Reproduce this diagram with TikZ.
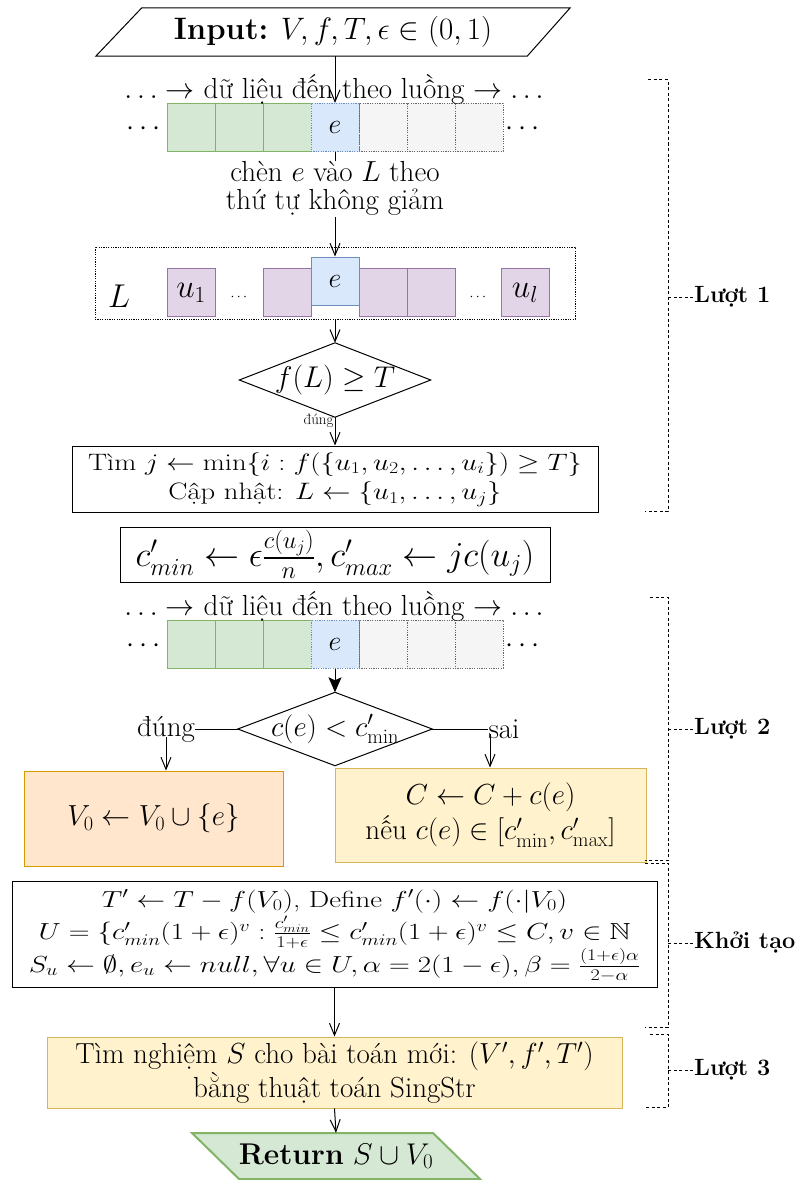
\RequirePackage{fix-cm}
\documentclass[tikz,border=0pt]{standalone}
\usepackage{amsmath,amssymb}
\usetikzlibrary{shapes.geometric,arrows.meta,calc}
\definecolor{gfill}{HTML}{D5E8D4}
\definecolor{gdraw}{HTML}{82B366}
\definecolor{bfill}{HTML}{DAE8FC}
\definecolor{bdraw}{HTML}{6C8EBF}
\definecolor{kfill}{HTML}{F5F5F5}
\definecolor{kdraw}{HTML}{666666}
\definecolor{pfill}{HTML}{E1D5E7}
\definecolor{pdraw}{HTML}{9673A6}
\definecolor{ofill}{HTML}{FFE6CC}
\definecolor{odraw}{HTML}{D79B00}
\definecolor{yfill}{HTML}{FFF2CC}
\definecolor{ydraw}{HTML}{D6B656}
\begin{document}
\begin{tikzpicture}[x=1pt,y=-1pt,
  every node/.style={font=\fontsize{29}{33}\selectfont, inner sep=0pt},
  ln/.style={line width=1pt},
  arr/.style={line width=1pt,-{Straight Barb[length=12pt,width=10pt]}},
  farr/.style={line width=1pt,-{Stealth[length=15pt,width=13pt,inset=3pt]}},
  cell/.style={minimum width=48pt,minimum height=48pt,line width=1pt},
  gcell/.style={cell,draw=gdraw,fill=gfill},
  ecell/.style={cell,draw=bdraw,fill=bfill,dash pattern=on 1.2pt off 1.2pt},
  kcell/.style={cell,draw=kdraw,fill=kfill,dash pattern=on 1.2pt off 1.2pt},
  pcell/.style={cell,draw=pdraw,fill=pfill},
  lcell/.style={cell,draw=bdraw,fill=bfill},
  box/.style={draw,line width=1pt,align=center},
  brk/.style={line width=1pt,dash pattern=on 3pt off 2.5pt},
  brklbl/.style={font=\fontsize{23.5}{27}\selectfont\bfseries,anchor=west},
]
\useasboundingbox (0,0) rectangle (800,1180);

% ---------- Input ----------
\node[minimum width=474pt,minimum height=48pt] (input) at (333,32)
  {\fontsize{31}{34}\selectfont\textbf{Input:} $V, f, T, \epsilon \in (0,1)$};
\draw[ln] (input.south west) -- ([xshift=46pt]input.north west)
  -- (input.north east) -- ([xshift=-43pt]input.south east) -- cycle;

% ---------- stream 1 ----------
\node[gcell] (a1) at (191,127.5) {};
\node[gcell] (a2) at (239,127.5) {};
\node[gcell] (a3) at (287,127.5) {};
\node[kcell] (a5) at (383,127.5) {};
\node[kcell] (a6) at (431,127.5) {};
\node[kcell] (a7) at (479,127.5) {};
\node[ecell,font=\fontsize{28}{30}\selectfont] (e1) at (335,127.5) {$e$};
\node (ld1) at (146,129) {$\cdots$};
\node (rd1) at (525,129) {$\cdots$};
\node (s1txt) at (334,89) {$\ldots\rightarrow$ dữ liệu đến theo luồng $\rightarrow\ldots$};

\draw[arr] (e1 |- input.south) -- (e1.north);

% ---------- L ----------
\node[draw,line width=1pt,dash pattern=on 1.2pt off 1.2pt,minimum width=480pt,minimum height=72pt] (Lbox) at (335,283) {};
\node[font=\fontsize{33}{35}\selectfont] (Ll) at (119,296) {$L$};
\node[pcell,font=\fontsize{33}{35}\selectfont] (u1) at (191,292.5) {$u_1$};
\node[font=\fontsize{14}{16}\selectfont] (ldL) at (240,297) {$\cdots$};
\node[pcell] (p2) at (287,292.5) {};
\node[pcell] (p4) at (383,292.5) {};
\node[pcell] (p5) at (431,292.5) {};
\node[font=\fontsize{14}{16}\selectfont] (rdL) at (479,297) {$\cdots$};
\node[pcell,font=\fontsize{33}{35}\selectfont] (ul) at (525,292.5) {$u_l$};
\node[lcell,font=\fontsize{28}{30}\selectfont] (Le) at (335,281) {$e$};

\draw[arr] (e1.south) -- node[pos=0.35,fill=white,align=center,inner sep=1pt,font=\fontsize{29}{28}\selectfont]
  {chèn $e$ vào $L$ theo\\thứ tự không giảm} (Le.north);

% ---------- decision 1 ----------
\node[minimum width=191pt,minimum height=74pt,font=\fontsize{30}{32}\selectfont] (d1) at (335,380) {$f(L) \geq T$};
\draw[ln] (d1.north) -- (d1.east) -- (d1.south) -- (d1.west) -- cycle;
\draw[arr] (Lbox.south) -- (d1.north);
\node[box,minimum width=526pt,minimum height=66pt,font=\fontsize{27}{34}\selectfont] (b1) at (335,479)
  {\scalebox{1.06}[0.88]{\begin{tabular}{@{}c@{}}
   Tìm $j \leftarrow \min\{i : f(\{u_1, u_2, \ldots, u_i\}) \geq T\}$\\
   Cập nhật: $L \leftarrow \{u_1, \ldots, u_j\}$\end{tabular}}};
\draw[arr] (d1.south) -- node[pos=0.14,left,font=\fontsize{15}{16}\selectfont,xshift=-1pt] {đúng} (b1.north);

% ---------- formula ----------
\node[box,minimum width=430pt,minimum height=55pt,font=\fontsize{35}{36}\selectfont] (fb) at (335,554.5)
  {$c'_{min} \leftarrow \epsilon\frac{c(u_j)}{n}, c'_{max} \leftarrow jc(u_j)$};

% ---------- stream 2 ----------
\node[gcell] (c1) at (191,644) {};
\node[gcell] (c2) at (239,644) {};
\node[gcell] (c3) at (287,644) {};
\node[kcell] (c5) at (383,644) {};
\node[kcell] (c6) at (431,644) {};
\node[kcell] (c7) at (479,644) {};
\node[ecell,font=\fontsize{28}{30}\selectfont] (e2) at (335,644) {$e$};
\node (ld2) at (146,646) {$\cdots$};
\node (rd2) at (525,646) {$\cdots$};
\node (s2txt) at (334,606) {$\ldots\rightarrow$ dữ liệu đến theo luồng $\rightarrow\ldots$};

% ---------- decision 2 ----------
\node[minimum width=194pt,minimum height=73pt] (d2) at (335,729) {$c(e) < c'_{\mathrm{min}}$};
\draw[ln] (d2.north) -- (d2.east) -- (d2.south) -- (d2.west) -- cycle;
\draw[farr] (e2.south) -- (d2.north);
\node (yes) at (166,729) {đúng};
\node (no) at (504,729) {sai};
\draw[ln] (d2.west) -- (yes.east);
\draw[ln] (d2.east) -- (no.west);

\node[box,draw=odraw,fill=ofill,minimum width=259pt,minimum height=95pt] (v0) at (153.5,818.5)
  {$V_0 \leftarrow V_0 \cup \{e\}$};
\node[box,draw=ydraw,fill=yfill,minimum width=311pt,minimum height=94pt,font=\fontsize{29}{35}\selectfont] (cb) at (490.5,815)
  {$C \leftarrow C + c(e)$\\ nếu $c(e) \in [c'_{\mathrm{min}}, c'_{\mathrm{max}}]$};
\draw[arr] ([yshift=5pt]yes.south) -- (yes.south |- v0.north);
\draw[arr] ([xshift=-14pt,yshift=5pt]no.south) -- ([xshift=-14pt]no.south |- cb.north);

% ---------- init ----------
\node[box,minimum width=645pt,minimum height=106pt,font=\fontsize{27}{34}\selectfont] (bb) at (334.5,934)
  {\scalebox{1.07}[0.86]{\begin{tabular}{@{}c@{}}
   $T' \leftarrow T - f(V_0)$, Define $f'(\cdot) \leftarrow f(\cdot|V_0)$\\
   $U = \{c'_{min}(1+\epsilon)^v : \frac{c'_{min}}{1+\epsilon} \leq c'_{min}(1+\epsilon)^v \leq C, v \in \mathbb{N}$\\
   $S_u \leftarrow \emptyset, e_u \leftarrow null, \forall u \in U, \alpha = 2(1-\epsilon), \beta = \frac{(1+\epsilon)\alpha}{2-\alpha}$\end{tabular}}};

\node[box,draw=ydraw,fill=yfill,minimum width=575pt,minimum height=71pt,font=\fontsize{29}{30}\selectfont] (s3) at (334.5,1072.5)
  {Tìm nghiệm $S$ cho bài toán mới: $(V', f', T')$\\ bằng thuật toán SingStr};
\draw[arr] (bb.south) -- (s3.north);

% ---------- return ----------
\coordinate (rc) at (336,1156);
\fill[gfill] ([shift={(-144pt,23pt)}]rc) -- ([shift={(-97pt,-23pt)}]rc) -- ([shift={(144pt,-23pt)}]rc) -- ([shift={(97pt,23pt)}]rc) -- cycle;
\draw[draw=gdraw,line width=2pt] ([shift={(-144pt,23pt)}]rc) -- ([shift={(-97pt,-23pt)}]rc) -- ([shift={(144pt,-23pt)}]rc) -- ([shift={(97pt,23pt)}]rc) -- cycle;
\node[minimum width=288pt,minimum height=46pt,font=\fontsize{30}{32}\selectfont] (ret) at (rc) {\textbf{Return} $S \cup V_0$};
\draw[arr] (s3.south) -- (ret.north);

% ---------- brackets ----------
\draw[brk] (648,80) -- (668,80) -- (668,511) -- (645,511);
\coordinate (m1) at (668,297);
\node[brklbl] (l1) at (694,297) {Lượt 1};
\draw[brk] (m1) -- (l1.west);

\draw[brk] (650,597) -- (668,597) -- (668,860) -- (645,860);
\coordinate (m2) at (668,729);
\node[brklbl] (l2) at (694,729) {Lượt 2};
\draw[brk] (m2) -- (l2.west);

\draw[brk] (645,863) -- (668,863) -- (668,1027) -- (645,1027);
\coordinate (m3) at (668,943);
\node[brklbl] (l3) at (694,943) {Khởi tạo};
\draw[brk] (m3) -- (l3.west);

\draw[brk] (650,1034) -- (668,1034) -- (668,1107) -- (645,1107);
\coordinate (m4) at (668,1070);
\node[brklbl] (l4) at (694,1070) {Lượt 3};
\draw[brk] (m4) -- (l4.west);
\end{tikzpicture}
\end{document}
